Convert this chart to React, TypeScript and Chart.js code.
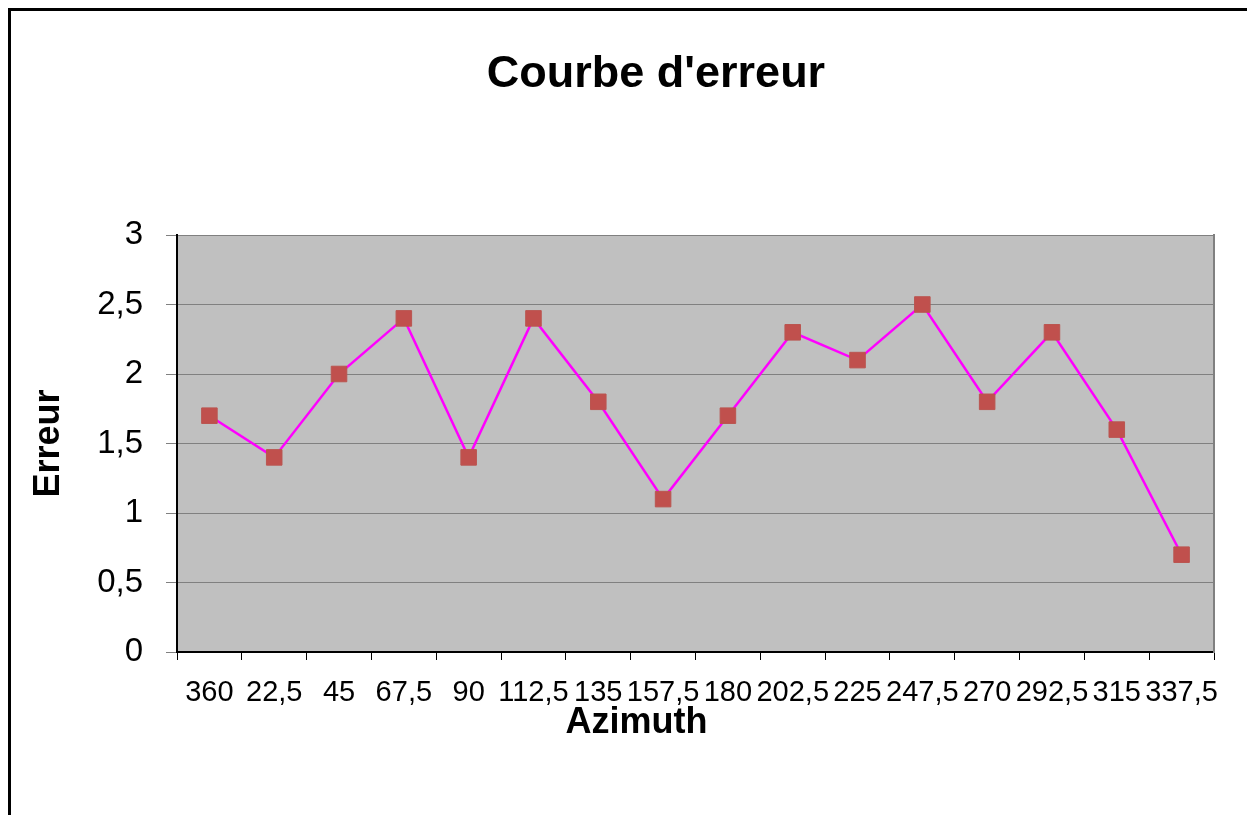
import React, { useEffect, useRef } from "react";
import { Chart, registerables } from "chart.js";

Chart.register(...registerables);

const azimuths = ["360", "22,5", "45", "67,5", "90", "112,5", "135", "157,5", "180", "202,5", "225", "247,5", "270", "292,5", "315", "337,5"];
const erreurs = [1.7, 1.4, 2.0, 2.4, 1.4, 2.4, 1.8, 1.1, 1.7, 2.3, 2.1, 2.5, 1.8, 2.3, 1.6, 0.7];
const yTickLabels = ["0", "0,5", "1", "1,5", "2", "2,5", "3"];
const chartTitle = "Courbe d'erreur";
const xTitle = "Azimuth";
const yTitle = "Erreur";

const FONT = "'Liberation Sans', Arial, Helvetica, sans-serif";

const plotBg = {
  id: "plotBg",
  beforeDraw(chart: any) {
    const { ctx, chartArea } = chart;
    if (!chartArea) return;
    ctx.save();
    ctx.fillStyle = "#C0C0C0";
    ctx.fillRect(chartArea.left, chartArea.top, chartArea.right - chartArea.left, chartArea.bottom - chartArea.top);
    ctx.restore();
  },
};

const xAxisTitle = {
  id: "xAxisTitle",
  afterDraw(chart: any) {
    const { ctx, chartArea } = chart;
    if (!chartArea) return;
    ctx.save();
    ctx.font = `bold 36px ${FONT}`;
    ctx.fillStyle = "#000";
    ctx.textAlign = "center";
    ctx.textBaseline = "middle";
    ctx.fillText(xTitle, (chartArea.left + chartArea.right) / 2 - 59, chartArea.bottom + 71.5);
    ctx.restore();
  },
};

export default function App() {
  const ref = useRef<HTMLCanvasElement | null>(null);

  useEffect(() => {
    if (!ref.current) return;
    const chart = new Chart(ref.current, {
      type: "line",
      data: {
        labels: azimuths,
        datasets: [
          {
            data: erreurs,
            borderColor: "#FF00FF",
            borderWidth: 2.5,
            pointStyle: "rect",
            pointRadius: 11,
            pointHoverRadius: 11,
            pointBackgroundColor: "#C0504D",
            pointBorderColor: "#BA5550",
            pointBorderWidth: 1,
            tension: 0,
            fill: false,
          },
        ],
      },
      options: {
        responsive: false,
        animation: false,
        layout: { padding: { left: 0, right: 0, top: 0, bottom: 63 } },
        plugins: {
          legend: { display: false },
          tooltip: { enabled: false },
          title: {
            display: true,
            text: chartTitle,
            color: "#000",
            font: { size: 45, weight: "bold", family: FONT },
            padding: { top: 37, bottom: 133 },
          },
        },
        scales: {
          x: {
            type: "category",
            offset: true,
            grid: { offset: true, drawOnChartArea: false, drawTicks: true, tickLength: 8, color: "#000", lineWidth: 1 },
            border: { display: true, color: "#000", width: 2 },
            ticks: {
              color: "#000",
              font: { size: 29, family: FONT },
              padding: 16,
              maxRotation: 0,
              minRotation: 0,
              autoSkip: false,
            },
            afterFit: (s: any) => {
              s.height = 100;
            },
          },
          y: {
            min: 0,
            max: 3,
            position: "left",
            grid: { color: "#808080", lineWidth: 1, tickLength: 11, drawTicks: true },
            border: { display: true, color: "#000", width: 2 },
            ticks: {
              stepSize: 0.5,
              color: "#000",
              font: { size: 33, family: FONT },
              padding: 23,
              callback: (_v: any, i: number) => yTickLabels[i],
            },
            title: {
              display: true,
              text: yTitle,
              color: "#000",
              font: { size: 36, weight: "bold", family: FONT },
              padding: { top: 16, bottom: 0 },
            },
            afterFit: (s: any) => {
              s.width = 166;
            },
          },
          y2: {
            min: 0,
            max: 3,
            position: "right",
            grid: { display: false, drawOnChartArea: false, drawTicks: false },
            border: { display: true, color: "#808080", width: 2 },
            ticks: { display: false },
            afterFit: (s: any) => {
              s.width = 87;
            },
          },
        },
      },
      plugins: [plotBg, xAxisTitle],
    } as any);
    return () => chart.destroy();
  }, []);

  return (
    <div
      style={{
        borderLeft: "3px solid #000",
        borderTop: "3px solid #000",
        width: 1236,
        height: 804,
        overflow: "hidden",
        background: "#fff",
      }}
    >
      <canvas ref={ref} width={1290} height={804} style={{ display: "block", width: 1290, height: 804 }} />
    </div>
  );
}
